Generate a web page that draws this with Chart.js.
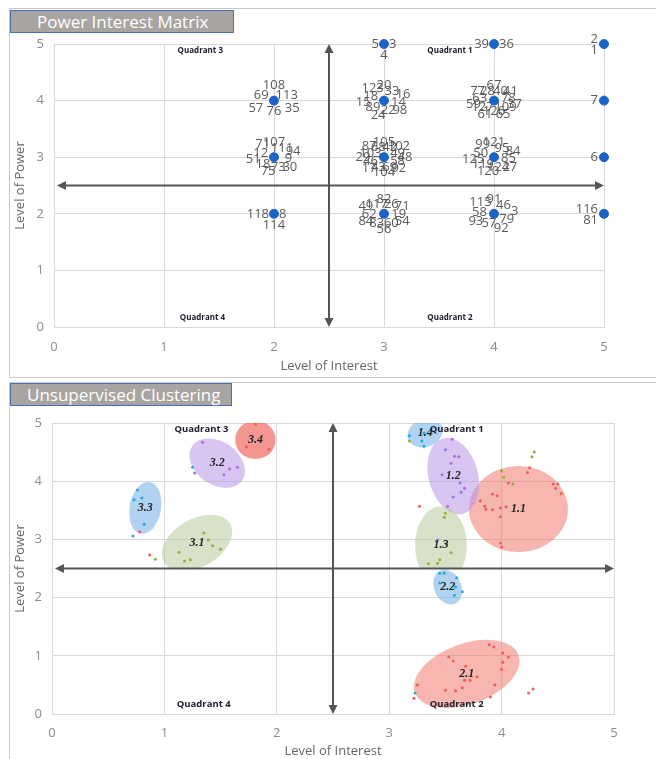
<!DOCTYPE html>
<html>
<head>
<meta charset="utf-8">
<script src="https://cdn.jsdelivr.net/npm/chart.js@4.4.1/dist/chart.umd.min.js"></script>
<style>
  html, body { margin: 0; padding: 0; background: #fff; width: 656px; height: 759px; overflow: hidden; }
  .panel { position: absolute; left: 9px; width: 700px; border: 1px solid #c9c9c9; }
  .box { position: absolute; left: 0; width: 656px; height: 378px; }
  .title { position: absolute; left: 10px; height: 23px; box-sizing: border-box; background: #a8a4a2;
           border: 1px solid #4a6fae; color: #fff; font: 17px 'Open Sans', sans-serif; line-height: 21px; }
</style>
</head>
<body>
<div class="panel" style="top:8px;height:368px"></div>
<div class="panel" style="top:382px;height:400px"></div>
<div class="box" style="top:0"><canvas id="matrix" width="656" height="378"></canvas></div>
<div class="box" style="top:381px"><canvas id="clusters" width="656" height="378"></canvas></div>
<div class="title" style="top:10px;width:224px;padding-left:26px">Power Interest Matrix</div>
<div class="title" style="top:383px;width:222px;padding-left:16px">Unsupervised Clustering</div>

<script>
// ---- data: power / interest matrix ----
const interestLevel = [2, 2, 2, 3, 3, 3, 3, 4, 4, 4, 4, 5, 5, 5, 5];
const powerLevel    = [4, 3, 2, 5, 4, 3, 2, 5, 4, 3, 2, 5, 4, 3, 2];
// ids listed clockwise from the top of each point
const stakeholderIds = [
  ['108', '113', '35', '76', '57', '69'],
  ['107', '111', '94', '9', '30', '73', '75', '18', '51', '12', '71'],
  ['118', '114', '8'],
  ['5', '4', '3'],
  ['20', '33', '16', '14', '98', '22', '24', '89', '15', '18', '123'],
  ['105', '42', '102', '49', '48', '58', '92', '69', '104', '43', '17', '46', '29', '103', '87', '68'],
  ['82', '26', '71', '19', '54', '60', '56', '83', '84', '62', '49', '117'],
  ['39', '36'],
  ['67', '40', '41', '78', '37', '109', '65', '126', '61', '127', '59', '63', '77', '28'],
  ['121', '95', '84', '85', '27', '124', '120', '119', '125', '50', '99'],
  ['91', '46', '3', '79', '92', '57', '93', '58', '115'],
  ['2', '1'],
  ['7'],
  ['6'],
  ['116', '81']
];

// quadrant captions (same spot in both charts)
const quadrantNames = ['Quadrant 3', 'Quadrant 1', 'Quadrant 4', 'Quadrant 2'];
const quadrantX = [1.33, 3.6, 1.35, 3.6];
const quadrantY = [4.89, 4.89, 0.17, 0.17];
const axisTicks = [0, 1, 2, 3, 4, 5];
const midPoint = 2.5;

// ---- data: clusters ----
const clusterNames = ['1.1', '1.2', '1.3', '1.4', '2.1', '2.2', '3.1', '3.2', '3.3', '3.4'];
const clusterX     = [4.15, 3.57, 3.46, 3.32, 3.69, 3.52, 1.29, 1.47, 0.83, 1.81];
const clusterY     = [3.52, 4.09, 2.90, 4.83, 0.69, 2.18, 2.94, 4.31, 3.54, 4.71];
const clusterRx    = [0.44, 0.22, 0.23, 0.16, 0.49, 0.12, 0.34, 0.27, 0.14, 0.18];
const clusterRy    = [0.74, 0.67, 0.67, 0.24, 0.52, 0.31, 0.41, 0.37, 0.45, 0.33];
const clusterTilt  = [0, -15, 0, -20, -20, -25, -30, 35, 10, 0];

const redX = [1.81, 1.73, 1.93, 0.78, 0.87, 4.25, 4.23, 4.06, 4.46, 4.50, 4.48, 4.53, 3.92, 3.96, 3.81, 3.85, 3.86, 3.92, 3.99, 4.04, 3.99, 3.99, 4.00, 3.51, 3.27,
              3.89, 3.93, 4.01, 4.06, 3.53, 3.57, 4.01, 3.68, 4.00, 3.78, 3.67, 3.72, 3.25, 3.94, 3.65, 3.50, 3.59, 3.90, 4.28, 4.24, 3.22];
const redY = [4.98, 4.59, 4.55, 3.13, 2.73, 4.23, 4.15, 3.97, 3.95, 3.95, 3.88, 3.79, 3.78, 3.75, 3.66, 3.57, 3.52, 3.51, 3.54, 3.56, 3.39, 2.94, 2.87, 2.92, 3.57,
              1.19, 1.15, 1.05, 0.98, 0.98, 0.91, 0.89, 0.82, 0.77, 0.64, 0.58, 0.58, 0.50, 0.50, 0.45, 0.41, 0.40, 0.29, 0.43, 0.36, 0.27];
const purpleX = [1.34, 1.27, 1.58, 1.65, 1.53, 3.56, 3.50, 3.58, 3.62, 3.55, 3.47, 3.63, 3.67, 3.64, 3.57, 3.52, 3.43];
const purpleY = [4.67, 4.14, 4.21, 4.24, 4.11, 4.72, 4.54, 4.43, 4.42, 4.31, 4.11, 3.97, 3.88, 3.81, 3.73, 3.57, 2.99];
const blueX = [1.25, 0.76, 0.73, 0.80, 0.82, 0.72, 3.18, 3.31, 3.31, 3.29, 3.45, 3.49, 3.60, 3.45, 3.59, 3.65, 3.58, 3.23];
const blueY = [4.24, 3.85, 3.68, 3.71, 3.26, 3.06, 4.78, 4.83, 4.60, 4.69, 2.42, 2.42, 2.34, 2.25, 2.18, 2.10, 2.04, 0.36];
const greenX = [1.35, 1.39, 1.43, 1.50, 1.13, 1.18, 1.23, 0.92, 3.18, 4.27, 4.29, 4.00, 4.02, 4.10, 3.50, 3.49, 3.55, 3.45, 3.43, 3.35];
const greenY = [3.11, 2.99, 2.89, 2.83, 2.78, 2.63, 2.65, 2.66, 4.69, 4.42, 4.50, 4.18, 4.07, 3.95, 3.45, 3.38, 2.77, 2.65, 2.59, 2.58];

// ---- styles ----
Chart.defaults.font.family = "'Open Sans', sans-serif";
const gridColor = '#d9d9d9';
const arrowColor = '#555555';
const clusterFill = {
  '1.1': 'rgba(242,110,100,0.50)', '2.1': 'rgba(242,110,100,0.50)', '3.4': 'rgba(238,95,85,0.65)',
  '1.2': 'rgba(185,150,232,0.55)', '3.2': 'rgba(185,150,232,0.55)',
  '1.3': 'rgba(175,198,145,0.50)', '3.1': 'rgba(175,198,145,0.50)',
  '1.4': 'rgba(110,175,228,0.55)', '2.2': 'rgba(110,175,228,0.55)', '3.3': 'rgba(110,175,228,0.55)'
};

const toPoints = (xs, ys) => xs.map((v, i) => ({ x: v, y: ys[i] }));

function axes(yWidth, xHeight, tickPad, titlePad) {
  const tickFont = { size: 13 };
  return {
    x: {
      type: 'linear', min: 0, max: 5,
      afterBuildTicks: s => { s.ticks = axisTicks.map(v => ({ value: v })); },
      afterFit: s => { s.height = xHeight; },
      ticks: { color: '#8c8c8c', font: tickFont, padding: tickPad },
      grid: { color: gridColor, drawTicks: false },
      border: { color: gridColor },
      title: { display: true, text: 'Level of Interest', color: '#666', font: { size: 13 }, padding: titlePad }
    },
    y: {
      type: 'linear', min: 0, max: 5,
      afterBuildTicks: s => { s.ticks = axisTicks.map(v => ({ value: v })); },
      afterFit: s => { s.width = yWidth; },
      ticks: { color: '#8c8c8c', font: tickFont, padding: 10 },
      grid: { color: gridColor, drawTicks: false },
      border: { color: gridColor },
      title: { display: true, text: 'Level of Power', color: '#666', font: { size: 13 }, padding: 2 }
    }
  };
}

function arrowHead(ctx, x, y, dirX, dirY) {
  const len = 9, half = 4.5;
  ctx.beginPath();
  ctx.moveTo(x, y);
  ctx.lineTo(x - dirX * len - dirY * half, y - dirY * len + dirX * half);
  ctx.lineTo(x - dirX * len + dirY * half, y - dirY * len - dirX * half);
  ctx.closePath();
  ctx.fill();
}

function drawCross(chart) {
  const { ctx, scales: { x, y } } = chart;
  const cx = x.getPixelForValue(midPoint), cy = y.getPixelForValue(midPoint);
  const l = x.getPixelForValue(x.min) + 3, r = x.getPixelForValue(x.max);
  const t = y.getPixelForValue(y.max), b = y.getPixelForValue(y.min);
  ctx.save();
  ctx.strokeStyle = arrowColor;
  ctx.fillStyle = arrowColor;
  ctx.lineWidth = 2;
  ctx.beginPath();
  ctx.moveTo(l + 6, cy); ctx.lineTo(r - 6, cy);
  ctx.moveTo(cx, t + 6); ctx.lineTo(cx, b - 6);
  ctx.stroke();
  arrowHead(ctx, l, cy, -1, 0);
  arrowHead(ctx, r, cy, 1, 0);
  arrowHead(ctx, cx, t, 0, -1);
  arrowHead(ctx, cx, b, 0, 1);
  ctx.restore();
}

function drawQuadrants(chart, size) {
  const { ctx, scales: { x, y } } = chart;
  ctx.save();
  ctx.font = `bold ${size}px 'Open Sans'`;
  ctx.fillStyle = '#1b1b2b';
  ctx.textAlign = 'center';
  ctx.textBaseline = 'middle';
  quadrantNames.forEach((q, i) => ctx.fillText(q, x.getPixelForValue(quadrantX[i]), y.getPixelForValue(quadrantY[i])));
  ctx.restore();
}

// ---- top chart ----
const matrixDecor = {
  id: 'matrixDecor',
  beforeDatasetsDraw(chart) {
    drawCross(chart);
    const { ctx, scales: { x, y } } = chart;
    ctx.save();
    ctx.font = "13px 'Open Sans'";
    ctx.fillStyle = '#5a5a5a';
    ctx.textBaseline = 'middle';
    interestLevel.forEach((v, i) => {
      const px = x.getPixelForValue(v), py = y.getPixelForValue(powerLevel[i]);
      const ids = stakeholderIds[i];
      ids.forEach((t, k) => {
        let dx = 0, dy = 0, align = 'center';
        if (v === x.max) {
          align = 'right'; dx = -6; dy = ids.length === 1 ? 0 : (k === 0 ? -5 : 6);
        } else if (ids.length === 2) {
          align = k === 0 ? 'right' : 'left'; dx = k === 0 ? -5 : 5;
        } else if (ids.length <= 4) {
          if (k === 0) { align = 'right'; dx = -5; }
          else if (k === 1) { dy = 11; }
          else if (k === 2) { align = 'left'; dx = 5; }
          else { dy = -11; }
        } else {
          // fan the ids out clockwise around the point, like the crowded Excel labels
          const a = -Math.PI / 2 + k * 2 * Math.PI / ids.length;
          const r = k % 2 ? 0.7 : 1;
          dx = Math.cos(a) * 21 * r;
          dy = Math.sin(a) * 15 * r;
        }
        ctx.textAlign = align;
        ctx.fillText(t, px + dx, py + dy);
      });
    });
    ctx.restore();
  },
  afterDatasetsDraw(chart) { drawQuadrants(chart, 8); }
};

new Chart(document.getElementById('matrix'), {
  type: 'scatter',
  data: {
    datasets: [{
      data: toPoints(interestLevel, powerLevel),
      backgroundColor: '#1b63c8',
      borderColor: '#1b63c8',
      pointRadius: 4.5,
      clip: false
    }]
  },
  options: {
    responsive: false,
    animation: false,
    layout: { padding: { left: 10, right: 52, top: 44, bottom: 0 } },
    plugins: { legend: { display: false }, tooltip: { enabled: false } },
    scales: axes(44, 51, 12, 4)
  },
  plugins: [matrixDecor]
});

// ---- bottom chart ----
const clusterDecor = {
  id: 'clusterDecor',
  beforeDatasetsDraw(chart) {
    const { ctx, chartArea, scales: { x, y } } = chart;
    const ux = x.getPixelForValue(1) - x.getPixelForValue(0);
    const uy = y.getPixelForValue(0) - y.getPixelForValue(1);
    clusterNames.forEach((name, i) => {
      // each cluster stays inside its own quadrant
      const q = name[0];
      const x0 = q === '3' ? x.min : midPoint, x1 = q === '3' ? midPoint : x.max;
      const y0 = q === '2' ? y.min : midPoint, y1 = q === '2' ? midPoint : y.max;
      const left = Math.max(chartArea.left, x.getPixelForValue(x0));
      const right = Math.min(chartArea.right, x.getPixelForValue(x1));
      const top = Math.max(chartArea.top, y.getPixelForValue(y1));
      const bottom = Math.min(chartArea.bottom, y.getPixelForValue(y0));
      ctx.save();
      ctx.beginPath();
      ctx.rect(left, top, right - left, bottom - top);
      ctx.clip();
      ctx.fillStyle = clusterFill[name];
      ctx.beginPath();
      ctx.ellipse(x.getPixelForValue(clusterX[i]), y.getPixelForValue(clusterY[i]),
        clusterRx[i] * ux, clusterRy[i] * uy, clusterTilt[i] * Math.PI / 180, 0, Math.PI * 2);
      ctx.fill();
      ctx.restore();
    });
    drawCross(chart);
  },
  afterDatasetsDraw(chart) {
    const { ctx, scales: { x, y } } = chart;
    ctx.save();
    ctx.font = "bold italic 12px 'Liberation Serif'";
    ctx.fillStyle = '#262626';
    ctx.textAlign = 'center';
    ctx.textBaseline = 'middle';
    clusterNames.forEach((name, i) => ctx.fillText(name, x.getPixelForValue(clusterX[i]), y.getPixelForValue(clusterY[i])));
    ctx.restore();
    drawQuadrants(chart, 9.5);
  }
};

const dotSet = (xs, ys, color) => ({
  data: toPoints(xs, ys), backgroundColor: color, borderColor: color, pointRadius: 1.5, borderWidth: 0
});

new Chart(document.getElementById('clusters'), {
  type: 'scatter',
  data: {
    datasets: [
      dotSet(redX, redY, '#ee5e52'),
      dotSet(purpleX, purpleY, '#a86ee0'),
      dotSet(blueX, blueY, '#2aa8de'),
      dotSet(greenX, greenY, '#98ad3c')
    ]
  },
  options: {
    responsive: false,
    animation: false,
    layout: { padding: { left: 10, right: 42, top: 42, bottom: 0 } },
    plugins: { legend: { display: false }, tooltip: { enabled: false } },
    scales: axes(42, 45, 11, 0)
  },
  plugins: [clusterDecor]
});
</script>
</body>
</html>
